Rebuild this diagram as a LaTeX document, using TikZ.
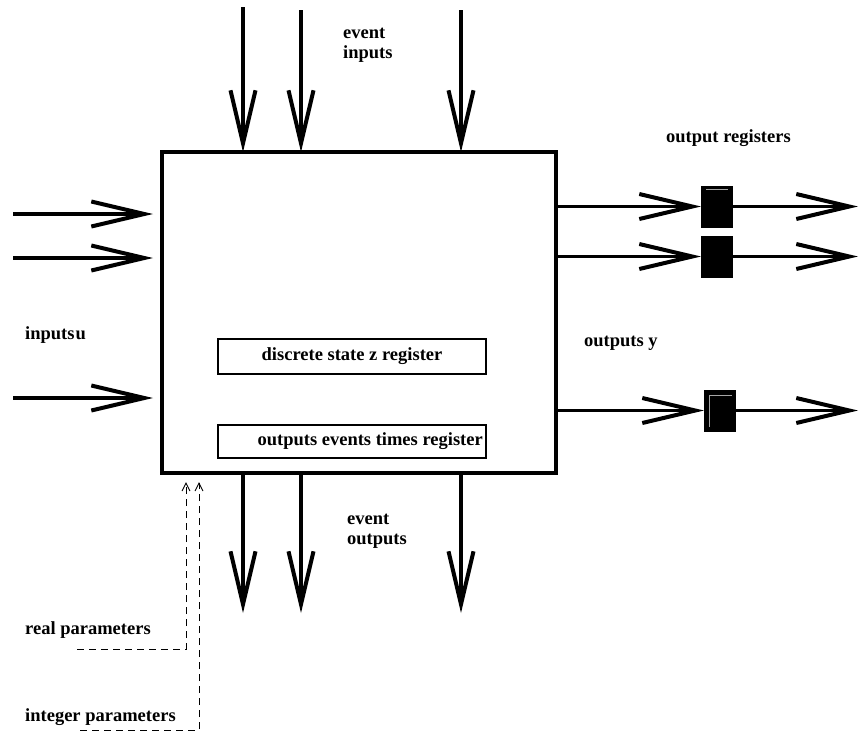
\documentclass[tikz,border=0pt]{standalone}
\usepackage{fontspec}
\setmainfont{Liberation Serif}
\usetikzlibrary{arrows.meta}
\tikzset{
  lbl/.style={font=\bfseries\fontsize{18.5}{20}\selectfont, inner sep=0pt, anchor=west, align=left},
  block/.style={draw, line width=3.3pt, inner sep=0pt, outer sep=0pt},
  regfield/.style={draw, line width=2pt, inner sep=0pt, outer sep=0pt, minimum width=268pt},
  regbox/.style={draw, fill=black, line width=1pt, inner sep=0pt, outer sep=0pt, minimum width=31pt, minimum height=41pt},
  bigarrow/.style={line width=3.5pt, -{Straight Barb[length=53pt, width=25pt, line width=4pt]}},
  param/.style={line width=0.9pt, dash pattern=on 7pt off 5pt, -{Straight Barb[length=8pt, width=8pt, line width=0.9pt]}},
  glint/.style={gray!70, line width=0.8pt}
}
\begin{document}
\begin{tikzpicture}[x=1pt, y=-1pt]
\useasboundingbox (0,0) rectangle (859,732);

% the block
\node[block, minimum width=394pt, minimum height=321pt] (blk) at (359,312.5) {};

% internal registers
\node[regfield, minimum height=35pt] (zreg) at (352,356.5) {};
\node[lbl, anchor=center] (zlbl) at (zreg.center) {discrete state z register};
\node[regfield, minimum height=33pt] (treg) at (352,441.5) {};
\node[lbl, anchor=east] (tlbl) at (483,441.5) {outputs events times register};

% event inputs
\coordinate (ei1) at (243,7);
\coordinate (ei2) at (301,10);
\coordinate (ei3) at (461,10);
\foreach \c in {ei1,ei2,ei3}
  \draw[bigarrow] (\c) -- (\c |- blk.north);
\node[lbl] (eilbl) at (343,45) {event\\inputs};

% event outputs
\coordinate (eo1) at (243,613);
\coordinate (eo2) at (301,613);
\coordinate (eo3) at (461,613);
\foreach \c in {eo1,eo2,eo3}
  \draw[bigarrow] (\c |- blk.south) -- (\c);
\node[lbl] (eolbl) at (347,531.5) {event\\outputs};

% regular inputs
\coordinate (in1) at (13,214);
\coordinate (in2) at (13,258);
\coordinate (in3) at (13,398);
\foreach \c in {in1,in2,in3}
  \draw[bigarrow, shorten >=9pt] (\c) -- (\c -| blk.west);
\node[lbl] (inlbl) at (25,335) {inputs\hspace{1pt}u};

% output registers
\node[regbox] (r1) at (716.5,206.5) {};
\node[regbox] (r2) at (716.5,256.5) {};
\node[regbox] (r3) at (719.5,410.5) {};
\draw[glint] (706,189.5) -- (728,189.5);
\draw[glint] (709,427) -- (709,395) -- (732,395);
\coordinate (out1) at (858,206.5);
\coordinate (out2) at (858,256.5);
\coordinate (out3) at (858,410.5);
\foreach \r/\o in {r1/out1,r2/out2,r3/out3}{
  \draw[bigarrow] (blk.east |- \r.west) -- (\r.west);
  \draw[bigarrow] (\r.east) -- (\o);
}
\node[lbl] (orlbl) at (666,138) {output registers};
\node[lbl] (oylbl) at (584,343) {outputs y};

% parameters
\coordinate (rp) at (77,649);
\coordinate (ip) at (80,730);
\draw[param, shorten >=9pt] (rp) -| ([xshift=24pt]blk.south west);
\draw[param, shorten >=9pt] (ip) -| ([xshift=37pt]blk.south west);
\node[lbl] (rplbl) at (25,630) {real parameters};
\node[lbl] (iplbl) at (25,717) {integer parameters};
\end{tikzpicture}
\end{document}
